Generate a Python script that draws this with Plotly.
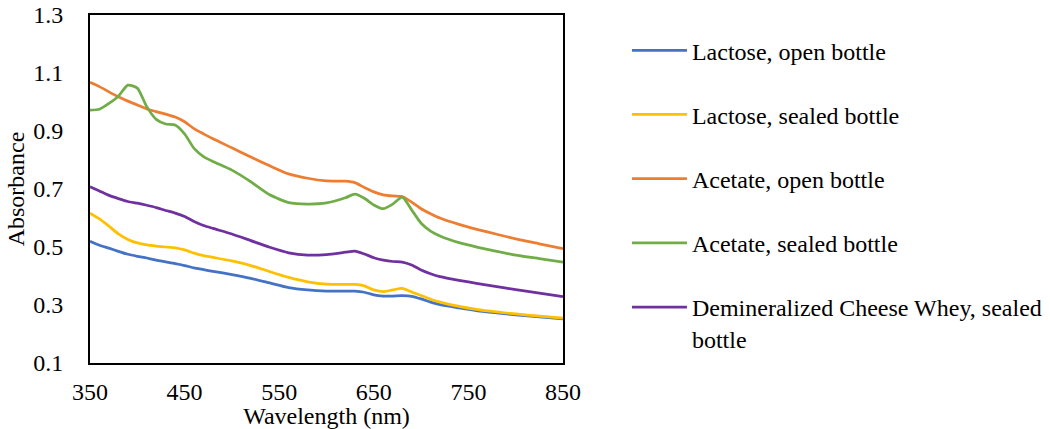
import plotly.graph_objects as go

wavelength = [350, 360, 370, 380, 390, 400, 410, 420, 430, 440, 450, 460, 470, 480,
              500, 520, 540, 560, 580, 600, 620, 630, 640, 650, 660, 670, 680, 690,
              700, 710, 720, 740, 760, 780, 800, 825, 850]

lactose_open = [0.520, 0.506, 0.496, 0.485, 0.475, 0.468, 0.462, 0.455, 0.449, 0.443,
                0.436, 0.428, 0.422, 0.416, 0.405, 0.392, 0.376, 0.360, 0.352, 0.348,
                0.348, 0.348, 0.344, 0.335, 0.331, 0.331, 0.332, 0.330, 0.321, 0.310,
                0.301, 0.290, 0.280, 0.273, 0.266, 0.259, 0.252]

lactose_sealed = [0.617, 0.597, 0.572, 0.545, 0.526, 0.514, 0.507, 0.503, 0.500, 0.497,
                  0.490, 0.479, 0.470, 0.464, 0.452, 0.436, 0.415, 0.395, 0.380, 0.372,
                  0.371, 0.371, 0.366, 0.352, 0.346, 0.352, 0.357, 0.345, 0.333, 0.320,
                  0.310, 0.295, 0.284, 0.276, 0.269, 0.262, 0.255]

acetate_open = [1.068, 1.053, 1.035, 1.018, 1.003, 0.990, 0.976, 0.967, 0.958, 0.948,
                0.932, 0.908, 0.890, 0.873, 0.842, 0.810, 0.780, 0.752, 0.737, 0.728,
                0.727, 0.722, 0.705, 0.690, 0.680, 0.676, 0.674, 0.655, 0.632, 0.615,
                0.600, 0.578, 0.560, 0.544, 0.528, 0.511, 0.494]

acetate_sealed = [0.972, 0.975, 0.995, 1.020, 1.058, 1.048, 0.984, 0.940, 0.924, 0.921,
                  0.890, 0.840, 0.812, 0.795, 0.765, 0.725, 0.680, 0.653, 0.648, 0.652,
                  0.670, 0.682, 0.668, 0.645, 0.632, 0.648, 0.672, 0.628, 0.582, 0.555,
                  0.538, 0.515, 0.499, 0.485, 0.472, 0.460, 0.448]

whey_sealed = [0.708, 0.693, 0.678, 0.667, 0.657, 0.651, 0.644, 0.636, 0.626, 0.617,
               0.605, 0.588, 0.574, 0.564, 0.545, 0.522, 0.499, 0.480, 0.472, 0.474,
               0.482, 0.486, 0.476, 0.463, 0.455, 0.450, 0.448, 0.438, 0.421, 0.408,
               0.398, 0.385, 0.374, 0.363, 0.353, 0.341, 0.329]

series_names = ["Lactose, open bottle", "Lactose, sealed bottle", "Acetate, open bottle",
                "Acetate, sealed bottle", "Demineralized Cheese Whey, sealed<br>bottle"]
series_values = [lactose_open, lactose_sealed, acetate_open, acetate_sealed, whey_sealed]
series_colors = ["#4472C4", "#FFC000", "#ED7D31", "#70AD47", "#7030A0"]

x_ticks = [350, 450, 550, 650, 750, 850]
y_ticks = [0.1, 0.3, 0.5, 0.7, 0.9, 1.1, 1.3]

FONT = "Liberation Serif"
FS = 24

fig = go.Figure()
for i, (name, vals, col) in enumerate(zip(series_names, series_values, series_colors)):
    fig.add_trace(go.Scatter(
        x=wavelength, y=vals, name=name, mode="lines",
        line=dict(color=col, width=2.75, shape="spline", smoothing=0.6),
        legendgroup=f"g{i}",
    ))

fig.update_layout(
    width=1050, height=429,
    margin=dict(l=90, r=487, t=15, b=66),
    paper_bgcolor="white", plot_bgcolor="white",
    font=dict(family=FONT, size=FS, color="black"),
    showlegend=True,
    legend=dict(
        xref="container", yref="container",
        x=0.5971, y=0.9343, xanchor="left", yanchor="top",
        maxheight=420,
        tracegroupgap=30, font=dict(family=FONT, size=FS, color="black"),
        bgcolor="rgba(0,0,0,0)", itemwidth=55, valign="top",
    ),
    xaxis=dict(
        range=[350, 850], tickvals=x_ticks, ticktext=[str(v) for v in x_ticks],
        showline=True, linecolor="black", linewidth=2, mirror=True,
        showgrid=False, zeroline=False, ticks="", ticklabelstandoff=6,
        automargin=False,
        title=dict(text="Wavelength (nm)", standoff=0, font=dict(family=FONT, size=FS)),
    ),
    yaxis=dict(
        range=[0.1, 1.3], tickvals=y_ticks, ticktext=[f"{v:.1f}" for v in y_ticks],
        showline=True, linecolor="black", linewidth=2, mirror=True,
        showgrid=False, zeroline=False, ticks="", ticklabelstandoff=20,
        automargin=False,
        title=dict(text="Absorbance", standoff=2, font=dict(family=FONT, size=FS)),
    ),
)

fig.write_html("out.html")
